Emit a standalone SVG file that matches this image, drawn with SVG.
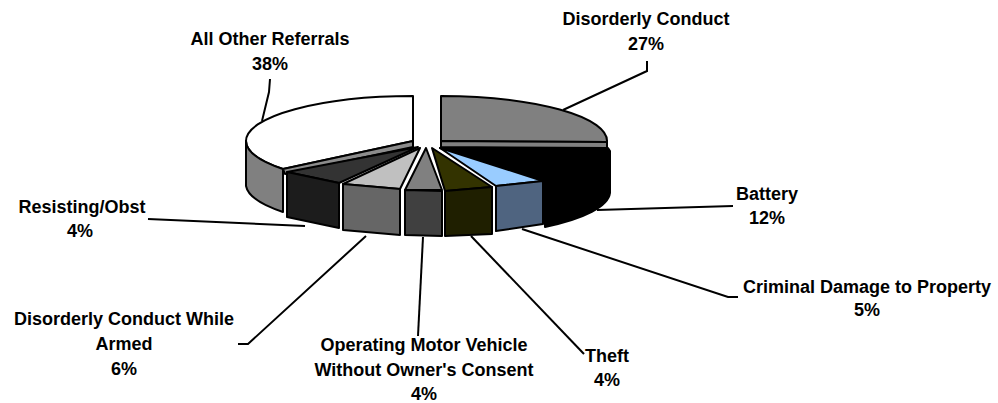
<svg xmlns="http://www.w3.org/2000/svg" width="998" height="403" viewBox="0 0 998 403">
<style>
.s{stroke:#000;stroke-width:2;stroke-linejoin:round}
.l{fill:none;stroke:#000;stroke-width:2}
text{font-family:"Liberation Sans",Arial,sans-serif;font-weight:bold;font-size:18px;fill:#000;text-anchor:middle}
</style>
<rect width="998" height="403" fill="#fff"/>
<g id="connectors">
<polyline class="l" points="647,61 647,71 563,110"/>
<polyline class="l" points="270,79 269,92 262,121"/>
<line class="l" x1="733" y1="206" x2="597" y2="210"/>
<polyline class="l" points="738,297 728,297 522,229"/>
<line class="l" x1="471" y1="236" x2="584" y2="354"/>
<line class="l" x1="148" y1="219" x2="305" y2="226"/>
<polyline class="l" points="238,344 248,344 366,236"/>
<line class="l" x1="423" y1="237" x2="418" y2="336"/>
</g>
<g id="all-other">
<path class="s" fill="#fff" d="M413,96 A167,45 0 0 0 246,141 A167,45 0 0 0 283,169 L413,141 Z"/>
<path class="s" fill="#808080" d="M246,141 A167,45 0 0 0 283,169 L283,212 A167,45 0 0 1 246,186 Z"/>
<path class="s" fill="#8c8c8c" d="M283,169 L413,141 L413,147 L285,174 Z"/>
<text x="270" y="45">All Other Referrals</text>
<text x="270" y="70">38%</text>
</g>
<g id="disorderly-conduct">
<path class="s" fill="#808080" d="M441,96 A166,45 0 0 1 607,142 L441,141 Z"/>
<path class="s" fill="#808080" d="M441,141 L607,142 L607,148 L441,147 Z"/>
<text x="646" y="25">Disorderly Conduct</text>
<text x="646" y="50">27%</text>
</g>
<g id="battery">
<path class="s" fill="#000" d="M440,148 L608,148 L610,151 L610,193 A170,45 0 0 1 545,227 L543,182 Z"/>
<text x="767" y="200">Battery</text>
<text x="767" y="224">12%</text>
</g>
<g id="resisting">
<path class="s" fill="#333" d="M418,147 L287,172 L339,183 Z"/>
<path class="s" fill="#1c1c1c" d="M287,172 L339,183 L339,228 L287,217 Z"/>
<text x="82" y="213">Resisting/Obst</text>
<text x="80" y="237">4%</text>
</g>
<g id="dc-armed">
<path class="s" fill="#c0c0c0" d="M420,148 L343,184 L400,189 Z"/>
<path class="s" fill="#666" d="M343,184 L400,189 L400,235 L343,230 Z"/>
<text x="124" y="325">Disorderly Conduct While</text>
<text x="124" y="350">Armed</text>
<text x="124" y="375">6%</text>
</g>
<g id="omv">
<path class="s" fill="#808080" d="M426,148 L405,190 L442,190 Z"/>
<path class="s" fill="#404040" d="M405,190 L442,191 L442,236 L405,235 Z"/>
<text x="424" y="351">Operating Motor Vehicle</text>
<text x="424" y="376">Without Owner's Consent</text>
<text x="424" y="400">4%</text>
</g>
<g id="theft">
<path class="s" fill="#333300" d="M432,148 L445,191 L492,187 Z"/>
<path class="s" fill="#1f1f00" d="M445,191 L492,187 L492,234 L445,236 Z"/>
<text x="607" y="362">Theft</text>
<text x="607" y="386">4%</text>
</g>
<g id="criminal-damage">
<path class="s" fill="#99ccff" d="M440,148 L496,186 L543,181 Z"/>
<path class="s" fill="#4f6480" d="M496,186 L543,181 L543,224 L496,231 Z"/>
<text x="867" y="293">Criminal Damage to Property</text>
<text x="867" y="316">5%</text>
</g>
</svg>
